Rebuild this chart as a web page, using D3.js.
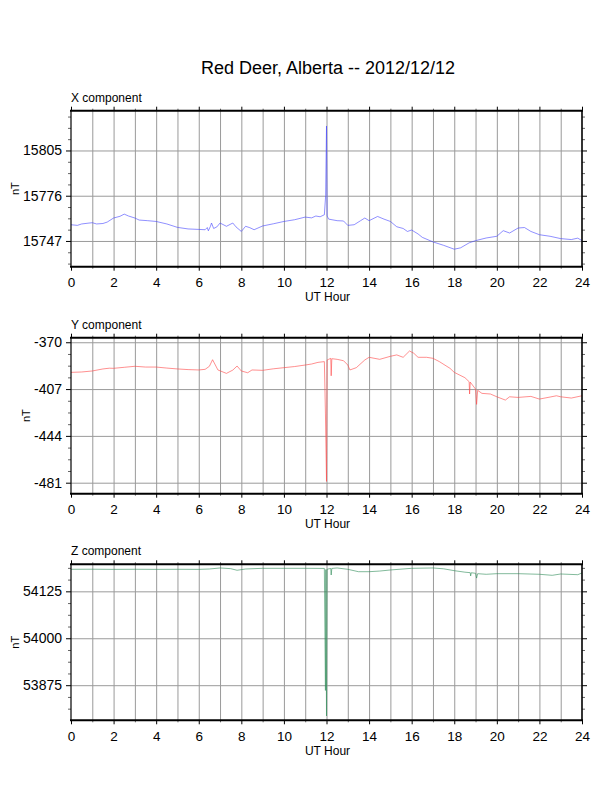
<!DOCTYPE html>
<html>
<head>
<meta charset="utf-8">
<script src="https://cdn.jsdelivr.net/npm/d3@7"></script>
<style>
  body { margin: 0; background: #fff; }
  text { font-family: "Liberation Sans", Arial, Helvetica, sans-serif; fill: #000; }
</style>
</head>
<body>
<svg id="chart" width="612" height="792"></svg>
<script>
// Red Deer, Alberta magnetometer -- 2012/12/12
const chartTitle = 'Red Deer, Alberta -- 2012/12/12'
const hourLabels = [0, 2, 4, 6, 8, 10, 12, 14, 16, 18, 20, 22, 24]
const hourMinor = [1, 3, 5, 7, 9, 11, 13, 15, 17, 19, 21, 23]

const xHours = [0, 0.3, 0.5, 0.8, 1.0, 1.2, 1.5, 1.7, 2.0, 2.3, 2.5, 2.7, 3.0, 3.2, 3.6, 4.0, 4.5, 5.0, 5.5, 6.0,
  6.3, 6.4, 6.45, 6.55, 6.6, 6.7, 6.85, 7.0, 7.3, 7.6, 7.75, 8.0, 8.2, 8.4, 8.6, 9.0, 9.5, 10.0, 10.5, 11.0,
  11.3, 11.5, 11.7, 11.9, 11.96, 12.0, 12.03, 12.1, 12.5, 12.8, 13.0, 13.3, 13.6, 13.8, 14.0, 14.4, 14.7, 15.0,
  15.3, 15.6, 15.8, 16.0, 16.3, 16.5, 17.0, 17.5, 18.0, 18.3, 18.7, 19.0, 19.5, 20.0, 20.3, 20.6, 21.0, 21.3,
  21.6, 22.0, 22.5, 23.0, 23.5, 23.8, 24.0]
const xValues = [15757.4, 15757.0, 15757.9, 15758.4, 15758.7, 15757.9, 15758.2, 15759.1, 15761.7, 15762.8,
  15764.2, 15763.0, 15761.7, 15760.4, 15760.0, 15759.5, 15757.9, 15755.7, 15754.7, 15754.4,
  15754.2, 15755.6, 15753.5, 15756.4, 15758.5, 15755.0, 15756.0, 15758.5, 15756.4, 15758.5, 15756.0, 15753.1,
  15756.4, 15755.5, 15754.2, 15756.6, 15758.0, 15759.5, 15760.6, 15762.3,
  15761.8, 15763.0, 15762.5, 15763.8, 15776.0, 15820.7, 15763.0, 15761.0, 15760.0, 15759.8, 15757.0, 15757.4,
  15760.0, 15761.7, 15760.0, 15762.7, 15761.0, 15759.5,
  15756.1, 15755.0, 15753.1, 15754.0, 15751.5, 15749.3, 15746.4, 15744.2, 15741.7, 15742.6, 15745.8, 15747.2,
  15748.9, 15750.0, 15753.6, 15752.1, 15755.3, 15755.6,
  15753.1, 15751.0, 15750.0, 15748.5, 15747.9, 15748.8, 15747.2]

const yHours = [0, 0.5, 1.0, 1.5, 1.8, 2.0, 2.5, 3.0, 3.5, 4.0, 4.5, 5.0, 5.5, 6.0, 6.3, 6.5, 6.65, 6.9, 7.3, 7.6,
  7.8, 8.0, 8.3, 8.5, 9.0, 9.5, 10.0, 10.5, 11.0, 11.3, 11.6, 11.9, 11.95, 12.0, 12.03, 12.1, 12.2, 12.22, 12.25,
  12.5, 12.8, 13.0, 13.1, 13.4, 13.8, 14.0, 14.5, 15.0, 15.3, 15.6, 15.9, 16.1, 16.3, 16.7, 17.0, 17.3, 17.8,
  18.0, 18.5, 18.7, 18.72, 18.75, 19.0, 19.05, 19.1, 19.3, 19.7, 20.0, 20.4, 20.6, 21.0, 21.6, 22.0, 22.5, 22.8,
  23.0, 23.5, 24.0]
const yValues = [-393.8, -393.5, -392.7, -391.1, -390.5, -390.6, -389.8, -389.0, -389.6, -389.6, -390.4, -391.1,
  -391.6, -391.9, -391.4, -389.0, -383.8, -391.9, -394.6, -392.0,
  -388.8, -392.7, -394.1, -391.9, -392.2, -391.0, -390.1, -389.2, -388.0, -387.2, -385.9, -385.3, -426.0, -480.0,
  -384.0, -383.5, -382.7, -396.5, -383.0,
  -383.5, -384.6, -388.0, -391.9, -390.1, -384.0, -381.9, -383.5, -381.1, -380.0, -381.9, -376.9, -378.7, -381.9,
  -381.9, -382.7, -385.3, -390.6,
  -393.8, -398.0, -401.2, -410.9, -401.5, -407.0, -419.1, -408.0, -410.4, -410.9, -413.1, -415.7, -413.1, -413.6,
  -412.8, -414.9, -413.3, -412.3,
  -413.1, -414.1, -412.3]

const zHours = [0, 1, 2, 3, 4, 5, 6, 6.5, 7.0, 7.5, 7.8, 8.2, 9.0, 10, 11, 11.9, 11.95, 11.97, 12.0, 12.03, 12.2,
  12.22, 12.25, 12.5, 13.0, 13.5, 14.0, 14.5, 15.0, 16.0, 17.0, 17.5, 18.0, 18.5, 18.75, 18.77, 18.8, 19.0, 19.05,
  19.1, 19.5, 20.0, 21.0, 22.0, 22.6, 23.0, 23.8, 24.0]
const zValues = [54183.7, 54183.9, 54183.5, 54183.8, 54183.5, 54183.7, 54183.5, 54184.5, 54187.2, 54185.4,
  54181.1, 54184.5, 54186.3, 54186.3, 54186.3, 54186.0, 53861.0, 54183.0, 53793.0, 54184.0, 54186.0,
  54168.5, 54186.0, 54187.2, 54183.7, 54177.3, 54177.3, 54179.0, 54181.9, 54186.3, 54187.2, 54185.0, 54180.0,
  54176.0, 54174.7, 54166.0, 54174.5, 54173.0, 54160.3,
  54172.0, 54170.4, 54172.0, 54172.0, 54170.4, 54167.7, 54171.2, 54169.3, 54173.9]

const xTicks = [15747, 15776, 15805]
const yTicks = [-481, -444, -407, -370]
const zTicks = [53875, 54000, 54125]

const panels = [
  { title: 'X component', hours: xHours, values: xValues, ticks: xTicks, domain: [15730.5, 15830.5], color: '#4444ff' },
  { title: 'Y component', hours: yHours, values: yValues, ticks: yTicks, domain: [-489.7, -366.4], color: '#ff4444' },
  { title: 'Z component', hours: zHours, values: zValues, ticks: zTicks, domain: [53781.5, 54197], color: '#2e8b57' }
]

const left = 71
const right = 582
const panelHeight = 156
const panelTops = [110.7, 337.7, 564.3]

const svg = d3.select('#chart')
const xScale = d3.scaleLinear().domain([0, 24]).range([left, right])

/**
 * Minor tick values between and around the major ticks (4 per interval).
 *
 * @param {number[]} ticks The major tick values
 * @param {number[]} domain The y domain of the panel
 * @returns {number[]} The minor tick values
 */
function minorTicks (ticks, domain) {
  const step = (ticks[1] - ticks[0]) / 4
  const lo = Math.min(...domain)
  const hi = Math.max(...domain)
  const start = ticks[0] - Math.floor((ticks[0] - lo) / step) * step
  return d3.range(start, hi, step).filter(v => !ticks.some(t => Math.abs(t - v) < 1e-6))
}

/**
 * Draws one component panel: grid, trace, frame, axes and labels.
 *
 * @param {object} panel The panel description
 * @param {number} top The y position of the frame's top edge
 */
function drawPanel (panel, top) {
  const bottom = top + panelHeight
  const yScale = d3.scaleLinear().domain(panel.domain).range([bottom, top])
  const g = svg.append('g')

  // grid
  g.append('g')
    .attr('transform', 'translate(0,' + bottom + ')')
    .call(d3.axisBottom(xScale).tickValues(d3.range(1, 24)).tickSize(-panelHeight).tickFormat(''))
    .call(s => s.select('.domain').remove())
    .selectAll('line').attr('stroke', '#9a9a9a').attr('stroke-width', 1)

  g.append('g')
    .attr('transform', 'translate(' + left + ',0)')
    .call(d3.axisLeft(yScale).tickValues(panel.ticks).tickSize(-(right - left)).tickFormat(''))
    .call(s => s.select('.domain').remove())
    .selectAll('line').attr('stroke', '#9a9a9a').attr('stroke-width', 1)

  // trace
  const line = d3.line()
    .x(d => xScale(d[0]))
    .y(d => yScale(d[1]))
  g.append('path')
    .datum(d3.zip(panel.hours, panel.values))
    .attr('fill', 'none')
    .attr('stroke', panel.color)
    .attr('stroke-width', 0.6)
    .attr('stroke-linejoin', 'round')
    .attr('d', line)

  // minor ticks
  const minors = minorTicks(panel.ticks, panel.domain)
  g.append('g')
    .attr('transform', 'translate(' + left + ',0)')
    .call(d3.axisLeft(yScale).tickValues(minors).tickSize(3).tickFormat(''))
    .call(s => s.select('.domain').remove())
    .selectAll('line').attr('stroke', '#666')
  g.append('g')
    .attr('transform', 'translate(' + right + ',0)')
    .call(d3.axisRight(yScale).tickValues(minors).tickSize(3).tickFormat(''))
    .call(s => s.select('.domain').remove())
    .selectAll('line').attr('stroke', '#666')
  g.append('g')
    .attr('transform', 'translate(0,' + bottom + ')')
    .call(d3.axisBottom(xScale).tickValues(hourMinor).tickSize(2).tickFormat(''))
    .call(s => s.select('.domain').remove())
    .selectAll('line').attr('stroke', '#666')
  g.append('g')
    .attr('transform', 'translate(0,' + top + ')')
    .call(d3.axisTop(xScale).tickValues(hourMinor).tickSize(2).tickFormat(''))
    .call(s => s.select('.domain').remove())
    .selectAll('line').attr('stroke', '#666')

  // major ticks and labels (plain hyphen for negatives, as in the original)
  const yAxis = g.append('g')
    .attr('transform', 'translate(' + left + ',0)')
    .call(d3.axisLeft(yScale).tickValues(panel.ticks).tickSize(5).tickPadding(4).tickFormat(d => String(d)))
  yAxis.select('.domain').remove()
  yAxis.selectAll('text').attr('font-size', 14).attr('fill', '#000')

  g.append('g')
    .attr('transform', 'translate(' + right + ',0)')
    .call(d3.axisRight(yScale).tickValues(panel.ticks).tickSize(5).tickFormat(''))
    .select('.domain').remove()

  const xAxis = g.append('g')
    .attr('transform', 'translate(0,' + bottom + ')')
    .call(d3.axisBottom(xScale).tickValues(hourLabels).tickSize(4).tickFormat(d => String(d)))
  xAxis.select('.domain').remove()
  xAxis.selectAll('text').attr('font-size', 13.5).attr('y', 20.3).attr('dy', null)

  g.append('g')
    .attr('transform', 'translate(0,' + top + ')')
    .call(d3.axisTop(xScale).tickValues(hourLabels).tickSize(4).tickFormat(''))
    .select('.domain').remove()

  // frame
  const frame = g.append('g').attr('stroke', '#000').attr('fill', 'none')
  frame.append('line').attr('x1', left - 1).attr('x2', right + 1).attr('y1', top).attr('y2', top).attr('stroke-width', 2)
  frame.append('line').attr('x1', left - 1).attr('x2', right + 1).attr('y1', bottom).attr('y2', bottom).attr('stroke-width', 2)
  frame.append('line').attr('x1', left).attr('x2', left).attr('y1', top).attr('y2', bottom).attr('stroke-width', 1.2)
  frame.append('line').attr('x1', right).attr('x2', right).attr('y1', top).attr('y2', bottom).attr('stroke-width', 1.6)

  // labels
  let widest = 0
  yAxis.selectAll('text').each(function () { widest = Math.max(widest, this.getComputedTextLength()) })
  const nTx = left - 9 - widest - 4
  g.append('text')
    .text('nT')
    .attr('font-size', 11)
    .attr('text-anchor', 'middle')
    .attr('transform', 'translate(' + nTx + ',' + (top + panelHeight / 2) + ') rotate(-90)')

  g.append('text')
    .text(panel.title)
    .attr('font-size', 12)
    .attr('x', left)
    .attr('y', top - 9.2)

  g.append('text')
    .text('UT Hour')
    .attr('font-size', 12)
    .attr('text-anchor', 'middle')
    .attr('x', (left + right) / 2 + 1)
    .attr('y', bottom + 34.5)
}

svg.append('text')
  .text(chartTitle)
  .attr('font-size', 18)
  .attr('text-anchor', 'middle')
  .attr('x', 328)
  .attr('y', 74)

panels.forEach((p, i) => drawPanel(p, panelTops[i]))
</script>
</body>
</html>
